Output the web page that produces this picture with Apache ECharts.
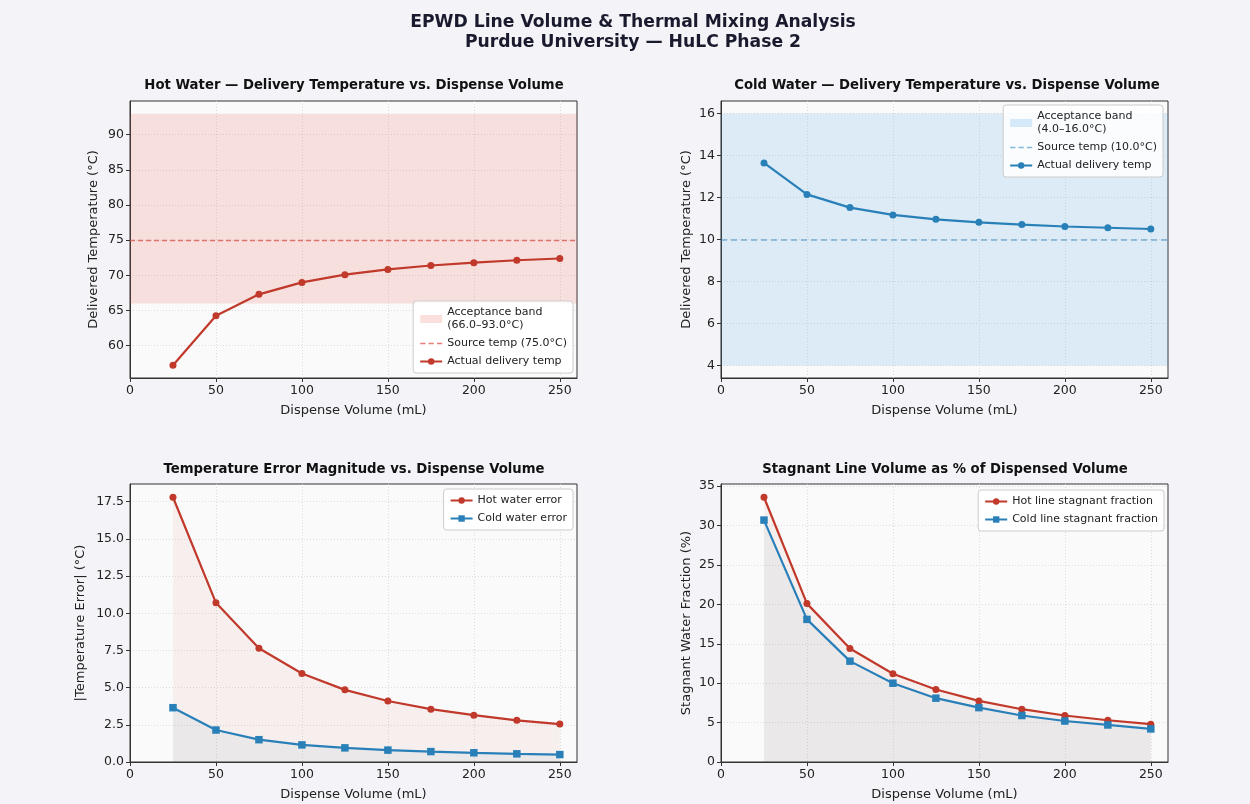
<!DOCTYPE html>
<html><head><meta charset="utf-8">
<script src="https://cdn.jsdelivr.net/npm/echarts@6/dist/echarts.min.js"></script>
<style>html,body{margin:0;padding:0;background:#f4f4f8}#c{width:1250px;height:804px}</style>
</head><body><div id="c"></div>
<script>
const VOLUMES = [25, 50, 75, 100, 125, 150, 175, 200, 225, 250];
const HOT_TEMP = [57.2, 64.25, 67.3, 69.0, 70.1, 70.85, 71.4, 71.8, 72.15, 72.4];
const COLD_TEMP = [13.65, 12.15, 11.52, 11.17, 10.96, 10.82, 10.71, 10.62, 10.56, 10.5];
const HOT_ERR = [17.8, 10.7, 7.65, 5.95, 4.85, 4.1, 3.55, 3.15, 2.8, 2.55];
const COLD_ERR = [3.65, 2.15, 1.5, 1.15, 0.95, 0.8, 0.7, 0.62, 0.55, 0.5];
const HOT_STAG = [33.6, 20.1, 14.4, 11.2, 9.2, 7.75, 6.7, 5.9, 5.3, 4.8];
const COLD_STAG = [30.7, 18.1, 12.8, 10.0, 8.1, 6.9, 5.9, 5.2, 4.7, 4.2];
const HOT_BAND = [66.0, 93.0], HOT_SOURCE = 75.0;
const COLD_BAND = [4.0, 16.0], COLD_SOURCE = 10.0;
const X_TICKS = [0, 50, 100, 150, 200, 250];
const Y_TICKS_HOT = [60, 65, 70, 75, 80, 85, 90];
const Y_TICKS_COLD = [4, 6, 8, 10, 12, 14, 16];
const Y_TICKS_ERR = [0, 2.5, 5, 7.5, 10, 12.5, 15, 17.5];
const Y_TICKS_STAG = [0, 5, 10, 15, 20, 25, 30, 35];

const RED = '#c0392b', BLUE = '#2980b9';
const FONT = 'DejaVu Sans';
const zip = (a, b) => a.map((v, i) => [v, b[i]]);
const DASH_ICON = 'path://M0,0H5V1.4H0Z M8,0H13V1.4H8Z M16,0H21V1.4H16Z';

const grids = [
  {left: 130, top: 101, width: 447, height: 277},
  {left: 721, top: 101, width: 447, height: 277},
  {left: 130, top: 484, width: 447, height: 278},
  {left: 721, top: 484, width: 447, height: 278}
].map(g => Object.assign(g, {show: true, backgroundColor: '#fafafa', borderColor: '#333', borderWidth: 1}));

function xAxis(i) {
  return {
    type: 'value', gridIndex: i, min: 0, max: 260,
    name: 'Dispense Volume (mL)', nameLocation: 'middle', nameGap: 26,
    nameTextStyle: {fontFamily: FONT, fontSize: 13, color: '#222'},
    axisLine: {show: true, lineStyle: {color: '#333'}},
    axisTick: {show: true, length: 4, customValues: X_TICKS, lineStyle: {color: '#333'}},
    axisLabel: {customValues: X_TICKS, fontFamily: FONT, fontSize: 12.5, color: '#222', margin: 6},
    splitLine: {show: true, lineStyle: {color: '#d6d6d6', type: [1, 2], width: 0.8}}
  };
}
function yAxis(i, name, min, max, ticks, gap, fmt) {
  return {
    type: 'value', gridIndex: i, min: min, max: max,
    name: name, nameLocation: 'middle', nameGap: gap, nameRotate: 90,
    nameTextStyle: {fontFamily: FONT, fontSize: 13, color: '#222'},
    axisLine: {show: true, lineStyle: {color: '#333'}},
    axisTick: {show: true, length: 4, customValues: ticks, lineStyle: {color: '#333'}},
    axisLabel: {customValues: ticks, fontFamily: FONT, fontSize: 12.5, color: '#222', margin: 6,
                formatter: fmt || (v => String(v))},
    splitLine: {show: true, lineStyle: {color: '#d6d6d6', type: [1, 2], width: 0.8}}
  };
}
function legend(data, pos) {
  return Object.assign({
    orient: 'vertical', data: data, itemWidth: 22, itemHeight: 8, itemGap: 5,
    backgroundColor: 'rgba(255,255,255,0.85)', borderColor: '#cccccc', borderWidth: 1, borderRadius: 3,
    padding: [5, 6, 5, 6], selectedMode: false,
    textStyle: {fontFamily: FONT, fontSize: 11, color: '#222', lineHeight: 13}
  }, pos);
}
const subTitle = (text, left, top) => ({text, left, top, textAlign: 'center',
  textStyle: {fontFamily: FONT, fontSize: 13.25, fontWeight: 'bold', color: '#111'}});

const lineSeries = (name, xi, data, color, symbol, extra) => Object.assign({
  name, type: 'line', xAxisIndex: xi, yAxisIndex: xi, data, symbol, symbolSize: symbol === 'circle' ? 7 : 7.5,
  itemStyle: {color}, lineStyle: {color, width: 2.2}, z: 5, animation: false
}, extra || {});

const hotBandName = 'Acceptance band\n(' + HOT_BAND[0].toFixed(1) + '–' + HOT_BAND[1].toFixed(1) + '°C)';
const coldBandName = 'Acceptance band\n(' + COLD_BAND[0].toFixed(1) + '–' + COLD_BAND[1].toFixed(1) + '°C)';
const hotSrcName = 'Source temp (' + HOT_SOURCE.toFixed(1) + '°C)';
const coldSrcName = 'Source temp (' + COLD_SOURCE.toFixed(1) + '°C)';
const HOT_SRC_COLOR = 'rgba(220,70,60,0.7)', COLD_SRC_COLOR = 'rgba(41,128,185,0.55)';

const option = {
  backgroundColor: '#f4f4f8',
  animation: false,
  title: [
    {text: 'EPWD Line Volume & Thermal Mixing Analysis\nPurdue University — HuLC Phase 2', left: 628, top: 8, textAlign: 'center',
     textStyle: {fontFamily: FONT, fontSize: 17.2, fontWeight: 'bold', color: '#1a1a2e', lineHeight: 20}},
    subTitle('Hot Water — Delivery Temperature vs. Dispense Volume', 349, 74),
    subTitle('Cold Water — Delivery Temperature vs. Dispense Volume', 942, 74),
    subTitle('Temperature Error Magnitude vs. Dispense Volume', 349, 458),
    subTitle('Stagnant Line Volume as % of Dispensed Volume', 940, 458)
  ],
  grid: grids,
  xAxis: [0, 1, 2, 3].map(xAxis),
  yAxis: [
    yAxis(0, 'Delivered Temperature (°C)', 55.4, 94.8, Y_TICKS_HOT, 30),
    yAxis(1, 'Delivered Temperature (°C)', 3.4, 16.6, Y_TICKS_COLD, 28),
    yAxis(2, '|Temperature Error| (°C)', 0, 18.69, Y_TICKS_ERR, 43, v => v.toFixed(1)),
    yAxis(3, 'Stagnant Water Fraction (%)', 0, 35.28, Y_TICKS_STAG, 28)
  ],
  legend: [
    legend([{name: hotBandName, icon: 'rect', itemStyle: {color: 'rgba(231,76,60,0.18)'}},
            {name: hotSrcName, icon: DASH_ICON, itemStyle: {color: HOT_SRC_COLOR}}, 'Actual delivery temp'],
           {right: 677, bottom: 431}),
    legend([{name: coldBandName, icon: 'rect', itemStyle: {color: 'rgba(52,152,219,0.18)'}},
            {name: coldSrcName, icon: DASH_ICON, itemStyle: {color: COLD_SRC_COLOR}}, 'Actual delivery temp (cold)'],
           {right: 87, top: 105, formatter: n => n.replace(' (cold)', '')}),
    legend(['Hot water error', 'Cold water error'], {right: 677, top: 489}),
    legend(['Hot line stagnant fraction', 'Cold line stagnant fraction'], {right: 86, top: 490})
  ],
  series: [
    {name: hotBandName, type: 'line', xAxisIndex: 0, yAxisIndex: 0, data: [], symbol: 'none',
     itemStyle: {color: 'rgba(231,76,60,0.18)'}, lineStyle: {width: 0},
     markArea: {silent: true, itemStyle: {color: 'rgba(231,76,60,0.15)'}, data: [[{yAxis: HOT_BAND[0]}, {yAxis: HOT_BAND[1]}]]}},
    {name: hotSrcName, type: 'line', xAxisIndex: 0, yAxisIndex: 0, data: [], symbol: 'none',
     itemStyle: {color: HOT_SRC_COLOR}, lineStyle: {color: HOT_SRC_COLOR, type: [5, 3], width: 1.4},
     markLine: {silent: true, symbol: 'none', label: {show: false},
       lineStyle: {color: HOT_SRC_COLOR, type: [5, 3], width: 1.4}, data: [{yAxis: HOT_SOURCE}]}},
    lineSeries('Actual delivery temp', 0, zip(VOLUMES, HOT_TEMP), RED, 'circle'),
    {name: coldBandName, type: 'line', xAxisIndex: 1, yAxisIndex: 1, data: [], symbol: 'none',
     itemStyle: {color: 'rgba(52,152,219,0.18)'}, lineStyle: {width: 0},
     markArea: {silent: true, itemStyle: {color: 'rgba(52,152,219,0.15)'}, data: [[{yAxis: COLD_BAND[0]}, {yAxis: COLD_BAND[1]}]]}},
    {name: coldSrcName, type: 'line', xAxisIndex: 1, yAxisIndex: 1, data: [], symbol: 'none',
     itemStyle: {color: COLD_SRC_COLOR}, lineStyle: {color: COLD_SRC_COLOR, type: [6, 4], width: 1.5},
     markLine: {silent: true, symbol: 'none', label: {show: false},
       lineStyle: {color: COLD_SRC_COLOR, type: [6, 4], width: 1.5}, data: [{yAxis: COLD_SOURCE}]}},
    lineSeries('Actual delivery temp (cold)', 1, zip(VOLUMES, COLD_TEMP), BLUE, 'circle'),
    lineSeries('Hot water error', 2, zip(VOLUMES, HOT_ERR), RED, 'circle', {areaStyle: {color: 'rgba(192,57,43,0.08)', origin: 'start'}}),
    lineSeries('Cold water error', 2, zip(VOLUMES, COLD_ERR), BLUE, 'rect', {areaStyle: {color: 'rgba(41,128,185,0.08)', origin: 'start'}}),
    lineSeries('Hot line stagnant fraction', 3, zip(VOLUMES, HOT_STAG), RED, 'circle', {areaStyle: {color: 'rgba(192,57,43,0.08)', origin: 'start'}}),
    lineSeries('Cold line stagnant fraction', 3, zip(VOLUMES, COLD_STAG), BLUE, 'rect', {areaStyle: {color: 'rgba(41,128,185,0.08)', origin: 'start'}})
  ]
};
const chart = echarts.init(document.getElementById('c'), null, {renderer: 'canvas'});
chart.setOption(option);
</script>
</body></html>
